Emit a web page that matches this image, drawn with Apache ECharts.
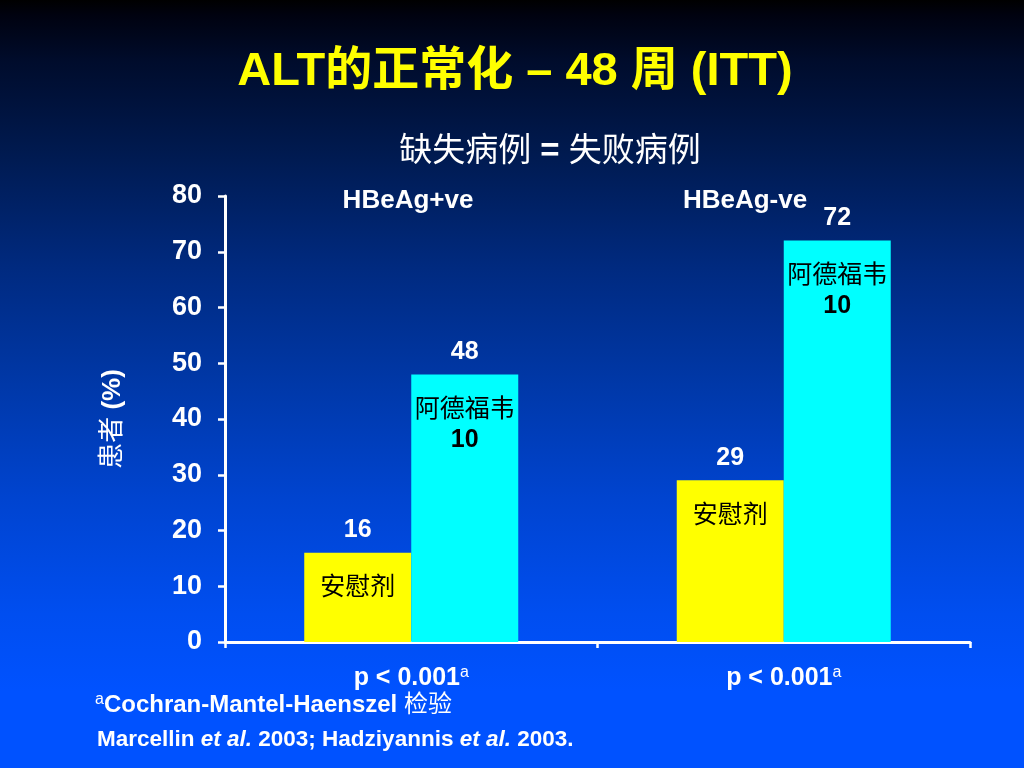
<!DOCTYPE html>
<html>
<head>
<meta charset="utf-8">
<script src="https://cdn.jsdelivr.net/npm/echarts@6/dist/echarts.min.js"></script>
<style>
html,body{margin:0;padding:0;width:1024px;height:768px;overflow:hidden;background:#001a50;}
#main{width:1024px;height:768px;}
</style>
</head>
<body>
<div id="main"></div>
<script>
// ---- data ----
const categories = ['HBeAg+ve', 'HBeAg-ve'];
const pValues = ['p < 0.001', 'p < 0.001'];
const placebo = [16, 29];
const adefovir = [48, 72];
const seriesNames = ['安慰剂', '阿德福韦\n10'];
const yMin = 0, yMax = 80, yInterval = 10;

const FONT = '"Liberation Sans", Arial, "Noto Sans CJK SC", sans-serif';

const chart = echarts.init(document.getElementById('main'), null, {renderer: 'canvas'});

function barLabel() {
  return {
    show: true,
    position: 'insideTop',
    distance: 0,
    offset: [0, -65.5],
    textBorderWidth: 0,
    formatter: function (p) {
      const lines = p.seriesName.split('\n');
      let s = '{v|' + p.value + '}\n{n|' + lines[0] + '}';
      if (lines[1]) s += '\n{b|' + lines[1] + '}';
      return s;
    },
    rich: {
      v: {color: '#ffffff', fontSize: 25, fontWeight: 'bold', lineHeight: 86, fontFamily: FONT},
      n: {color: '#000000', fontSize: 25, lineHeight: 30, fontFamily: FONT},
      b: {color: '#000000', fontSize: 25, fontWeight: 'bold', lineHeight: 30, fontFamily: FONT}
    }
  };
}

const option = {
  animation: false,
  backgroundColor: {
    type: 'linear', x: 0, y: 0, x2: 0, y2: 1,
    colorStops: [
      {offset: 0, color: '#000000'},
      {offset: 0.02, color: '#000210'},
      {offset: 0.08, color: '#000c2c'},
      {offset: 0.2, color: '#001a50'},
      {offset: 0.35, color: '#002a80'},
      {offset: 0.5, color: '#0038a8'},
      {offset: 0.65, color: '#0044d0'},
      {offset: 0.8, color: '#004ef0'},
      {offset: 0.9, color: '#0052ff'},
      {offset: 1, color: '#0052ff'}
    ]
  },
  grid: {left: 225, right: 54, top: 196, bottom: 126, containLabel: false},
  xAxis: {
    type: 'category',
    data: categories,
    axisLine: {show: true, lineStyle: {color: '#ffffff', width: 3}},
    axisTick: {show: true, length: 6, lineStyle: {color: '#ffffff', width: 2.5}},
    axisLabel: {
      margin: 23,
      formatter: function (val, idx) { return '{p|' + pValues[idx] + '}{a|a}'; },
      rich: {
        p: {color: '#ffffff', fontSize: 25, fontWeight: 'bold', lineHeight: 26, fontFamily: FONT},
        a: {color: '#ffffff', fontSize: 16, lineHeight: 16, verticalAlign: 'top', fontFamily: FONT}
      }
    },
    splitLine: {show: false}
  },
  yAxis: {
    type: 'value',
    min: yMin, max: yMax, interval: yInterval,
    name: '{c|患者}{b| (%)}',
    nameLocation: 'middle',
    nameGap: 99,
    nameRotate: 90,
    nameTextStyle: {
      rich: {
        c: {color: '#ffffff', fontSize: 26, fontFamily: FONT},
        b: {color: '#ffffff', fontSize: 26, fontWeight: 'bold', fontFamily: FONT}
      }
    },
    axisLine: {show: true, lineStyle: {color: '#ffffff', width: 3}},
    axisTick: {show: true, length: 7, lineStyle: {color: '#ffffff', width: 2.5}},
    axisLabel: {color: '#ffffff', fontSize: 27, fontWeight: 'bold', margin: 23, fontFamily: FONT},
    splitLine: {show: false}
  },
  series: [
    {
      type: 'bar', name: seriesNames[0], data: placebo,
      barWidth: 107, barGap: '0%',
      itemStyle: {color: '#ffff00'},
      label: barLabel()
    },
    {
      type: 'bar', name: seriesNames[1], data: adefovir,
      barWidth: 107, barGap: '0%',
      itemStyle: {color: '#00ffff'},
      label: barLabel()
    }
  ],
  graphic: [
    {
      type: 'text', x: 515, y: 72, z: 10,
      style: {
        text: 'ALT的正常化 – 48 周 (ITT)',
        fill: '#ffff00',
        font: 'bold 47px ' + FONT,
        textAlign: 'center', textVerticalAlign: 'middle', align: 'center', verticalAlign: 'middle'
      }
    },
    {
      type: 'text', x: 550, y: 152, z: 10,
      style: {
        text: '{c|缺失病例}{b| = }{c|失败病例}',
        rich: {
          c: {fill: '#ffffff', color: '#ffffff', fontSize: 33, fontFamily: FONT},
          b: {fill: '#ffffff', color: '#ffffff', fontSize: 33, fontWeight: 'bold', fontFamily: FONT}
        },
        fill: '#ffffff',
        textAlign: 'center', textVerticalAlign: 'middle', align: 'center', verticalAlign: 'middle'
      }
    },
    {
      type: 'text', x: 408, y: 201, z: 10,
      style: {
        text: categories[0], fill: '#ffffff', font: 'bold 26px ' + FONT,
        textAlign: 'center', textVerticalAlign: 'middle', align: 'center', verticalAlign: 'middle'
      }
    },
    {
      type: 'text', x: 745, y: 201, z: 10,
      style: {
        text: categories[1], fill: '#ffffff', font: 'bold 26px ' + FONT,
        textAlign: 'center', textVerticalAlign: 'middle', align: 'center', verticalAlign: 'middle'
      }
    },
    {
      type: 'text', x: 95, y: 705, z: 10,
      style: {
        text: '{s|a}{t|Cochran-Mantel-Haenszel }{c|检验}',
        rich: {
          s: {fill: '#ffffff', color: '#ffffff', fontSize: 16, lineHeight: 16, verticalAlign: 'top', fontFamily: FONT},
          t: {fill: '#ffffff', color: '#ffffff', fontSize: 24, fontWeight: 'bold', lineHeight: 26, fontFamily: FONT},
          c: {fill: '#ffffff', color: '#ffffff', fontSize: 24, lineHeight: 26, fontFamily: FONT}
        },
        fill: '#ffffff',
        textAlign: 'left', textVerticalAlign: 'middle', align: 'left', verticalAlign: 'middle'
      }
    },
    {
      type: 'text', x: 97, y: 740, z: 10,
      style: {
        text: '{t|Marcellin }{i|et al.}{t| 2003; Hadziyannis }{i|et al.}{t| 2003.}',
        rich: {
          t: {fill: '#ffffff', color: '#ffffff', fontSize: 22.5, fontWeight: 'bold', fontFamily: FONT},
          i: {fill: '#ffffff', color: '#ffffff', fontSize: 22.5, fontWeight: 'bold', fontStyle: 'italic', fontFamily: FONT}
        },
        fill: '#ffffff',
        textAlign: 'left', textVerticalAlign: 'middle', align: 'left', verticalAlign: 'middle'
      }
    }
  ]
};

chart.setOption(option);
</script>
</body>
</html>
